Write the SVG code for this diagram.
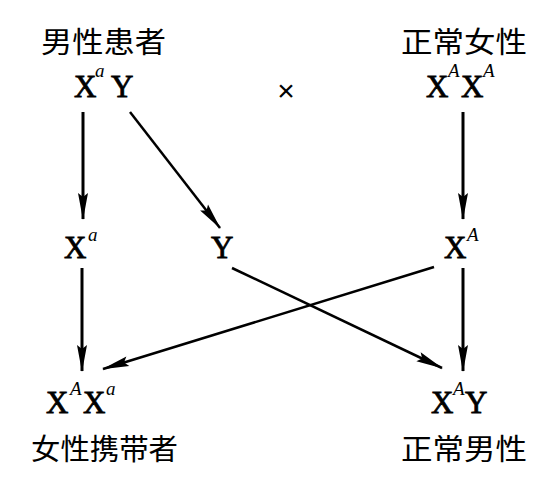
<svg xmlns="http://www.w3.org/2000/svg" width="537" height="489" viewBox="0 0 537 489">
<style>
.cn{font-family:"Noto Sans CJK SC","Noto Sans CJK JP",sans-serif;font-size:29px;fill:#000}
.g{font-family:"Liberation Serif","Times New Roman",serif;font-size:31px;fill:#000;stroke:#000;stroke-width:0.8}
.s{font-family:"Liberation Serif","Times New Roman",serif;font-size:19px;font-style:italic;fill:#000}
.ln{stroke:#000;stroke-width:3;fill:none;marker-end:url(#ah)}
.lt{stroke:#000;stroke-width:2.5;fill:none;marker-end:url(#ah)}
</style>
<defs>
<marker id="ah" markerUnits="userSpaceOnUse" markerWidth="30" markerHeight="12" viewBox="0 -6 28 12" refX="26" refY="0" orient="auto">
<path d="M0,-5 L27,0 L0,5 L4,0 z" fill="#000"/>
</marker>
</defs>
<rect width="537" height="489" fill="#fff"/>
<g id="male-patient">
<text class="cn" x="41" y="53" textLength="125" lengthAdjust="spacingAndGlyphs">男性患者</text>
<text class="g" x="74" y="97">X</text><text class="s" x="95" y="77">a</text><text class="g" x="111" y="97">Y</text>
</g>
<g id="cross"><text x="286" y="101" text-anchor="middle" style="font-family:'Liberation Sans',sans-serif;font-size:30px">×</text></g>
<g id="normal-female">
<text class="cn" x="401" y="53" textLength="126" lengthAdjust="spacingAndGlyphs">正常女性</text>
<text class="g" x="426" y="97">X</text><text class="s" x="448" y="77">A</text><text class="g" x="461" y="97">X</text><text class="s" x="483" y="77">A</text>
</g>
<g id="gamete-Xa"><text class="g" x="64" y="258">X</text><text class="s" x="88" y="241">a</text></g>
<g id="gamete-Y"><text class="g" x="211" y="258">Y</text></g>
<g id="gamete-XA"><text class="g" x="444" y="258">X</text><text class="s" x="467" y="241">A</text></g>
<g id="carrier-female">
<text class="g" x="46" y="413">X</text><text class="s" x="70" y="395">A</text><text class="g" x="83" y="413">X</text><text class="s" x="106" y="395">a</text>
<text class="cn" x="31" y="460" textLength="147" lengthAdjust="spacingAndGlyphs">女性携带者</text>
</g>
<g id="normal-male">
<text class="g" x="431" y="413">X</text><text class="s" x="453" y="395">A</text><text class="g" x="465" y="413">Y</text>
<text class="cn" x="401" y="460" textLength="126" lengthAdjust="spacingAndGlyphs">正常男性</text>
</g>
<g id="connectors">
<line class="ln" x1="83" y1="112" x2="83" y2="219"/>
<line class="lt" x1="130" y1="112" x2="220" y2="228"/>
<line class="ln" x1="463" y1="112" x2="463" y2="219"/>
<line class="ln" x1="82" y1="268" x2="82" y2="371"/>
<line class="lt" x1="434" y1="267" x2="103" y2="369"/>
<line class="lt" x1="232" y1="268" x2="442" y2="368"/>
<line class="ln" x1="463" y1="268" x2="463" y2="371"/>
</g>
</svg>
